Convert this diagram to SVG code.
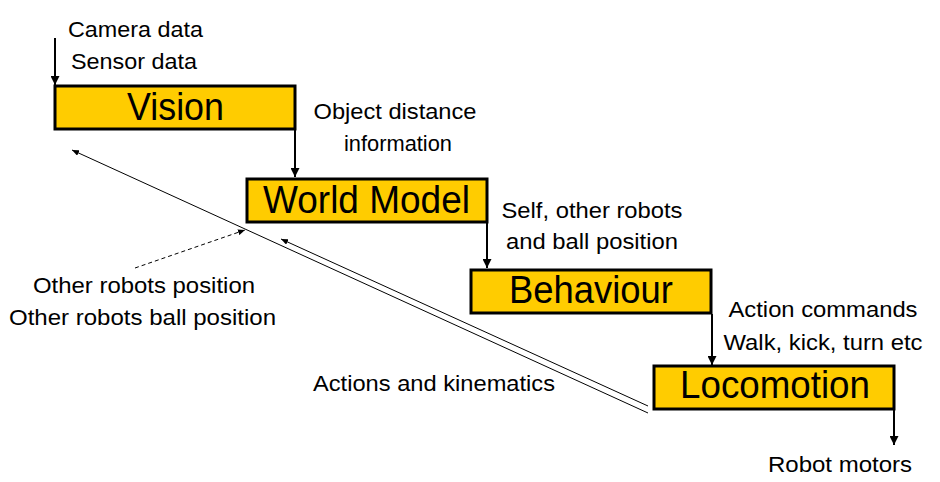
<svg xmlns="http://www.w3.org/2000/svg" width="940" height="482" viewBox="0 0 940 482">
<style>
.box{fill:#FFCC00;stroke:#000;stroke-width:3}
.big{font-family:"Liberation Sans",Arial,sans-serif;font-size:38px;fill:#000;text-anchor:middle}
.lbl{font-family:"Liberation Sans",Arial,sans-serif;font-size:22px;fill:#000;text-anchor:middle}
.thick{stroke:#000;stroke-width:2;fill:none}
.thin{stroke:#000;stroke-width:1;fill:none}
.dash{stroke:#000;stroke-width:1;fill:none;stroke-dasharray:4 3}
</style>
<defs>
<marker id="ah" markerUnits="userSpaceOnUse" markerWidth="10" markerHeight="9" refX="9" refY="4.5" orient="auto">
<path d="M0,0 L9,4.5 L0,9 z" fill="#000"/>
</marker>
<marker id="sh" markerUnits="userSpaceOnUse" markerWidth="8" markerHeight="6" refX="7" refY="3" orient="auto">
<path d="M0,0 L7,3 L0,6 z" fill="#000"/>
</marker>
</defs>
<rect width="940" height="482" fill="#fff"/>

<g id="connectors">
<line class="thick" x1="55" y1="38" x2="55" y2="85" marker-end="url(#ah)"/>
<line class="thick" x1="295" y1="130" x2="295" y2="177" marker-end="url(#ah)"/>
<line class="thick" x1="487" y1="223" x2="487" y2="268" marker-end="url(#ah)"/>
<line class="thick" x1="712" y1="314" x2="712" y2="365" marker-end="url(#ah)"/>
<line class="thick" x1="894" y1="410" x2="894" y2="445" marker-end="url(#ah)"/>
<line class="thin" x1="648" y1="413" x2="72" y2="150" marker-end="url(#sh)"/>
<line class="thin" x1="648" y1="406" x2="281" y2="239" marker-end="url(#sh)"/>
<line class="dash" x1="135" y1="268" x2="245" y2="230" marker-end="url(#sh)"/>
</g>

<g id="vision">
<rect class="box" x="55" y="86" width="240" height="43"/>
<text class="big" x="175.5" y="120" textLength="97" lengthAdjust="spacingAndGlyphs">Vision</text>
</g>
<g id="world-model">
<rect class="box" x="247" y="179" width="240" height="43"/>
<text class="big" x="366.5" y="213" textLength="207" lengthAdjust="spacingAndGlyphs">World Model</text>
</g>
<g id="behaviour">
<rect class="box" x="471" y="270" width="240" height="43"/>
<text class="big" x="591" y="303" textLength="164" lengthAdjust="spacingAndGlyphs">Behaviour</text>
</g>
<g id="locomotion">
<rect class="box" x="654" y="366" width="240" height="43"/>
<text class="big" x="775" y="398" textLength="190" lengthAdjust="spacingAndGlyphs">Locomotion</text>
</g>

<g id="labels">
<text class="lbl" x="135.5" y="37" textLength="135" lengthAdjust="spacingAndGlyphs">Camera data</text>
<text class="lbl" x="134" y="69" textLength="126" lengthAdjust="spacingAndGlyphs">Sensor data</text>
<text class="lbl" x="395" y="119" textLength="163" lengthAdjust="spacingAndGlyphs">Object distance</text>
<text class="lbl" x="398" y="151" textLength="108" lengthAdjust="spacingAndGlyphs">information</text>
<text class="lbl" x="592" y="218" textLength="181" lengthAdjust="spacingAndGlyphs">Self, other robots</text>
<text class="lbl" x="592" y="249" textLength="172" lengthAdjust="spacingAndGlyphs">and ball position</text>
<text class="lbl" x="823" y="317" textLength="189" lengthAdjust="spacingAndGlyphs">Action commands</text>
<text class="lbl" x="823" y="350" textLength="199" lengthAdjust="spacingAndGlyphs">Walk, kick, turn etc</text>
<text class="lbl" x="144" y="293" textLength="222" lengthAdjust="spacingAndGlyphs">Other robots position</text>
<text class="lbl" x="142.5" y="325" textLength="267" lengthAdjust="spacingAndGlyphs">Other robots ball position</text>
<text class="lbl" x="434" y="391" textLength="242" lengthAdjust="spacingAndGlyphs">Actions and kinematics</text>
<text class="lbl" x="840" y="472" textLength="144" lengthAdjust="spacingAndGlyphs">Robot motors</text>
</g>
</svg>
